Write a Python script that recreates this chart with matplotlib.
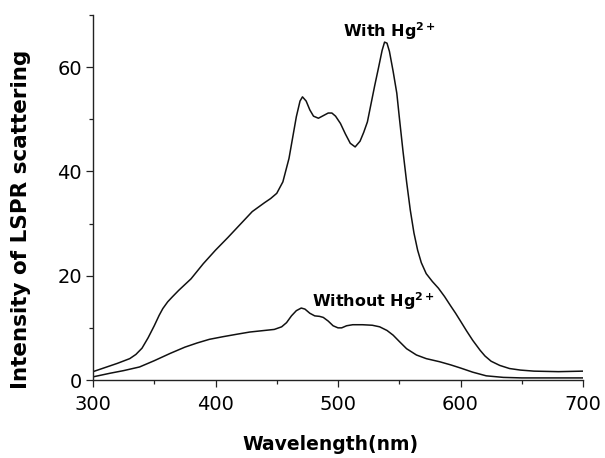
import numpy as np
import matplotlib
matplotlib.use("Agg")
import matplotlib.pyplot as plt
from matplotlib.ticker import MultipleLocator

# spectra
wl_with = [300, 310, 320, 330, 335, 340, 345, 350, 354, 357, 361, 365, 370, 380, 390,
           400, 410, 420, 430, 440, 445, 450, 455, 460, 463, 466, 469, 471, 474,
           477, 480, 484, 488, 492, 495, 498, 502, 506, 510, 514, 518, 521, 524,
           527, 530, 533, 536, 538, 540, 542, 545, 548, 550, 553, 556, 559, 562,
           565, 568, 572, 577, 582, 587, 592, 596, 600, 605, 610, 616, 620, 625, 632,
           640, 649, 660, 680, 700]
int_with = [1.6, 2.4, 3.2, 4.1, 4.9, 6.1, 8.1, 10.4, 12.4, 13.7, 15.0, 16.0, 17.2, 19.4, 22.3,
            24.9, 27.3, 29.8, 32.3, 34.0, 34.8, 35.8, 38.0, 42.5, 46.5, 50.5, 53.5, 54.3, 53.5,
            51.8, 50.6, 50.2, 50.7, 51.2, 51.2, 50.6, 49.2, 47.2, 45.4, 44.7, 45.8, 47.5, 49.5,
            53.0, 56.5, 59.8, 63.2, 64.8, 64.6, 63.0, 59.2, 55.0, 50.5, 44.0, 38.0, 32.6, 28.2,
            24.9, 22.5, 20.4, 18.9, 17.6, 16.0, 14.2, 12.8, 11.3, 9.4, 7.6, 5.7, 4.6, 3.6, 2.8,
            2.2, 1.9, 1.7, 1.6, 1.7]

wl_without = [300, 314, 325, 338, 350, 363, 375, 385, 395, 406, 418, 428, 440, 448,
              454, 458, 462, 466, 470, 473, 477, 481, 485, 488, 492, 496, 500, 503,
              507, 512, 520, 528, 534, 540, 545, 550, 556, 564, 572, 583, 592, 600,
              610, 621, 635, 650, 700]
int_without = [0.6, 1.3, 1.8, 2.5, 3.7, 5.1, 6.3, 7.1, 7.8, 8.3, 8.8, 9.2, 9.5, 9.7,
               10.2, 11.0, 12.3, 13.3, 13.8, 13.6, 12.8, 12.3, 12.2, 12.0, 11.3, 10.4, 10.0, 10.0,
               10.4, 10.6, 10.6, 10.5, 10.2, 9.5, 8.6, 7.4, 6.0, 4.8, 4.1, 3.5, 2.9, 2.3,
               1.5, 0.8, 0.5, 0.4, 0.4]

fig = plt.figure(figsize=(6.05, 4.58), dpi=100)
ax = fig.add_axes([93/605, 1-380/458, 490/605, 365/458])

ax.plot(wl_with, int_with, color='#111111', lw=1.1)
ax.plot(wl_without, int_without, color='#111111', lw=1.1)

ax.set_xlim(300, 700)
ax.set_ylim(0, 70)
ax.xaxis.set_major_locator(MultipleLocator(100))
ax.xaxis.set_minor_locator(MultipleLocator(50))
ax.yaxis.set_major_locator(MultipleLocator(20))
ax.yaxis.set_minor_locator(MultipleLocator(10))

for s in ['top', 'right']:
    ax.spines[s].set_visible(False)
for s in ['left', 'bottom']:
    ax.spines[s].set_linewidth(1.0)
    ax.spines[s].set_color('#222222')

ax.tick_params(which='major', direction='out', length=5, width=0.9, labelsize=14, color='#222222')
ax.tick_params(which='minor', direction='out', length=3, width=0.9, color='#222222')
ax.tick_params(axis='x', pad=6)
ax.tick_params(axis='y', pad=3)

ax.text(504, 65.7, r'With Hg$^{\mathbf{2+}}$', fontsize=11.5, fontweight='bold', ha='left', va='baseline')
ax.text(479, 14.0, r'Without Hg$^{\mathbf{2+}}$', fontsize=11.5, fontweight='bold', ha='left', va='baseline')

fig.text(330.5/605, 1-444/458, 'Wavelength(nm)', fontsize=13.5, fontweight='bold', ha='center', va='center')
fig.text(21/605, 1-219/458, 'Intensity of LSPR scattering', fontsize=15.5, fontweight='bold',
         ha='center', va='center', rotation=90)

fig.savefig('out.png', dpi=100)
